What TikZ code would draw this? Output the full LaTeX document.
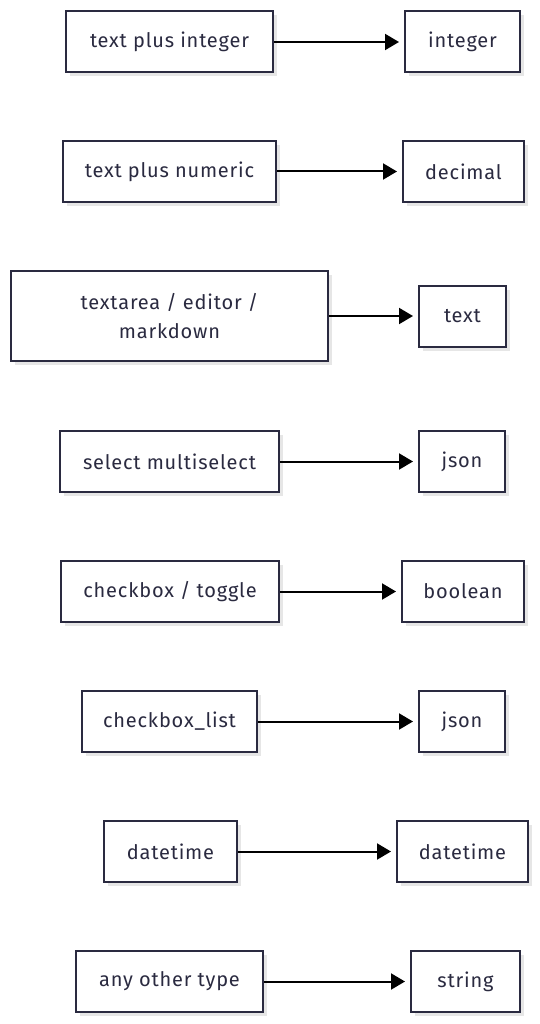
\documentclass[tikz,border=0pt]{standalone}
\usepackage{fontspec}
\setmainfont[LetterSpace=4]{Fira Sans}
\usepackage{tikz}
\usetikzlibrary{arrows.meta,positioning,shadows}

\definecolor{inkdark}{HTML}{2A2A40}
\definecolor{shadegray}{HTML}{E6E6E6}

\tikzset{
    typebox/.style={draw=inkdark, line width=2pt, fill=white, text=inkdark,
        font=\fontsize{20}{29}\selectfont, align=center, inner sep=0pt,
        drop shadow={shadow xshift=4pt, shadow yshift=-4pt, fill=shadegray, opacity=1}},
    maparrow/.style={line width=2pt, draw=black, -{Triangle[length=14pt,width=16pt]}, shorten >=5pt}
}

\begin{document}
\begin{tikzpicture}[x=1pt,y=-1pt]

\useasboundingbox (0,0) rectangle (539,1024);

% each row: y / left centre / left width / left height / left label / right centre / right width / right label / name
\foreach \y/\lx/\lw/\lh/\ltxt/\rx/\rw/\rtxt/\n in {
    42/169.5/207/61/{text plus integer}/462.5/115/{integer}/a,
    171.5/169.5/213/61/{text plus numeric}/463.5/121/{decimal}/b,
    316/169.5/317/90/{textarea / editor /\\ markdown}/462.5/87/{text}/c,
    461.5/169.5/219/61/{select multiselect}/462/86/{json}/d,
    591.5/170/218/61/{checkbox / toggle}/463/122/{boolean}/e,
    721.5/169.5/175/61/{checkbox\_list}/462/86/{json}/f,
    851.5/170.5/133/61/{datetime}/462.5/131/{datetime}/g,
    981.5/169.5/187/61/{any other type}/465.5/109/{string}/h}
{
    \node[typebox, minimum width=\lw pt, minimum height=\lh pt] (src\n) at (\lx,\y) {\ltxt};
    \node[typebox, minimum width=\rw pt, minimum height=61pt] (dst\n) at (\rx,\y) {\rtxt};
    \draw[maparrow] (src\n) -- (dst\n);
}

\end{tikzpicture}
\end{document}
